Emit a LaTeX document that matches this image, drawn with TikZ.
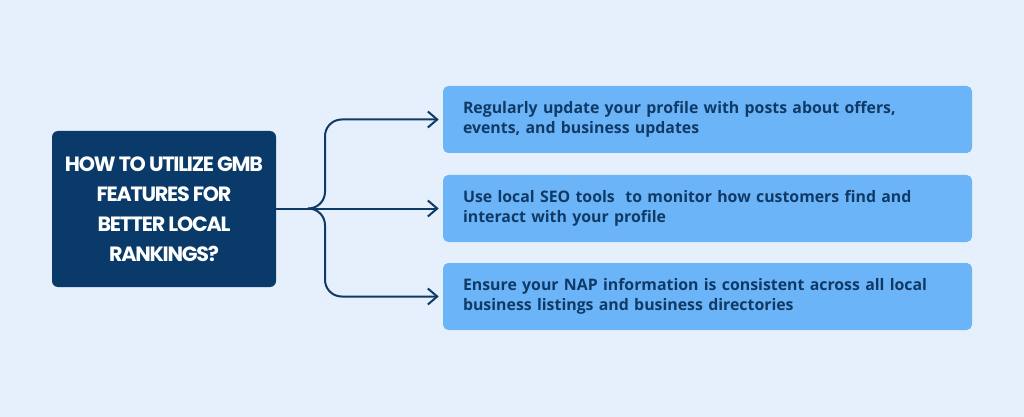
\documentclass[tikz,border=0pt]{standalone}
\usepackage{fontspec}
\setmainfont{Open Sans}
\newfontfamily\titlefont[LetterSpace=-6]{Poppins}
\usetikzlibrary{arrows.meta,calc}
\definecolor{pageBg}{RGB}{230,240,253}
\definecolor{navyBox}{RGB}{10,58,105}
\definecolor{skyBox}{RGB}{108,180,248}
\definecolor{inkNavy}{RGB}{16,58,102}

\begin{document}
\begin{tikzpicture}[
  x=0.75pt, y=-0.75pt,
  hub/.style={fill=navyBox, rounded corners=4.5pt, minimum width=168pt, minimum height=117pt,
    inner sep=2pt, align=center, text=white, font=\titlefont\bfseries\fontsize{15.5}{22.5}\selectfont},
  tip/.style={fill=skyBox, rounded corners=4pt, minimum width=396.75pt, minimum height=50.25pt,
    inner xsep=15pt, text width=366.75pt, align=left, text=inkNavy,
    font=\bfseries\fontsize{11.9}{15}\selectfont},
  link/.style={draw=inkNavy, line width=1.5pt, line cap=round},
  arrow/.style={link, -{Straight Barb[length=7pt, width=12pt, line width=1.5pt]}, shorten >=3pt}
]

% ------------------------------------------------------------------
% Background
% ------------------------------------------------------------------
\fill[pageBg] (0,0) rectangle (1024,417);
\useasboundingbox (0,0) rectangle (1024,417);

% ------------------------------------------------------------------
% Question box
% ------------------------------------------------------------------
\node[hub] (question) at (164,209) {HOW TO UTILIZE GMB\\FEATURES FOR\\BETTER LOCAL\\RANKINGS?};

% ------------------------------------------------------------------
% Tips
% ------------------------------------------------------------------
\node[tip] (posts) at (707.5,119.5) {Regularly update your profile with posts about offers,\\events, and business updates};
\node[tip] (seo)   at (707.5,208.5) {Use local SEO tools\ \ to monitor how customers find and\\interact with your profile};
\node[tip] (nap)   at (707.5,296.5) {Ensure your NAP information is consistent across all local\\business listings and business directories};

% ------------------------------------------------------------------
% Brace connectors
% ------------------------------------------------------------------
\coordinate (split) at (308,208.5);
\draw[link] (question.east |- split) -- (split);
\draw[arrow] (split) -- (seo.west);
\draw[arrow, rounded corners=12.5pt] (split) -- ++(17,0) |- (posts.west);
\draw[arrow, rounded corners=12.5pt] (split) -- ++(17,0) |- (nap.west);

\end{tikzpicture}
\end{document}
